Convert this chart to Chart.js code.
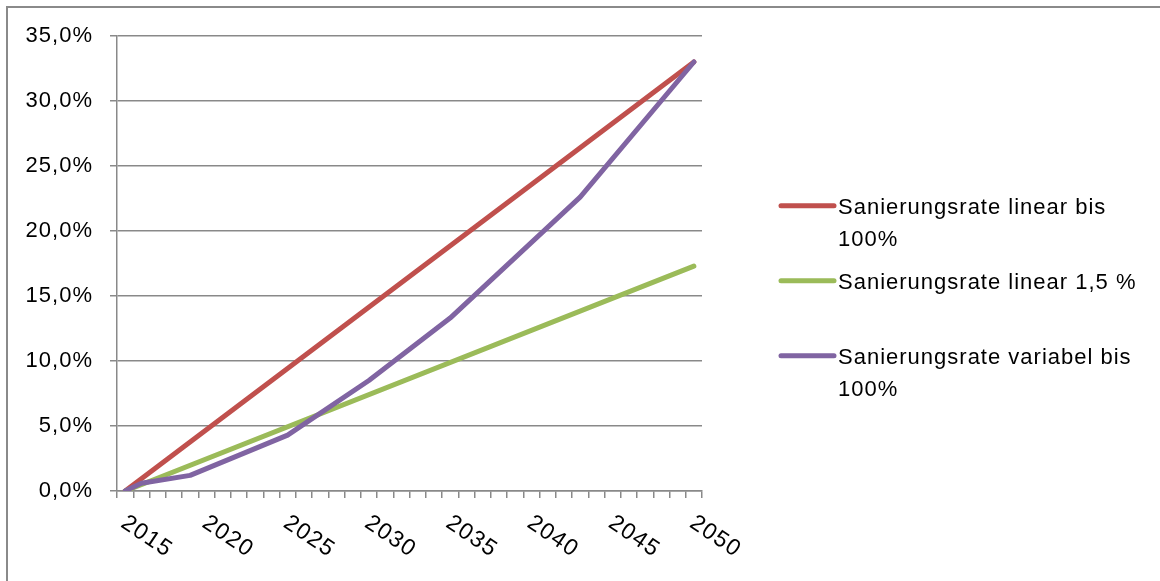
<!DOCTYPE html>
<html>
<head>
<meta charset="utf-8">
<script src="https://cdn.jsdelivr.net/npm/chart.js@4.4.0/dist/chart.umd.min.js"></script>
<style>
  html, body { margin: 0; padding: 0; background: #ffffff; }
  #wrap { position: relative; width: 1160px; height: 581px; }
</style>
</head>
<body>
<div id="wrap"><canvas id="chart" width="1160" height="581"></canvas></div>
<script>
// Years on the category axis (one category per year)
const years = [2015, 2016, 2017, 2018, 2019, 2020, 2021, 2022, 2023, 2024,
               2025, 2026, 2027, 2028, 2029, 2030, 2031, 2032, 2033, 2034,
               2035, 2036, 2037, 2038, 2039, 2040, 2041, 2042, 2043, 2044,
               2045, 2046, 2047, 2048, 2049, 2050];

// Labelled years along the x axis
const yearTickLabels = ['2015', '2020', '2025', '2030', '2035', '2040', '2045', '2050'];

// Series names
const seriesNames = [
  'Sanierungsrate linear bis 100%',
  'Sanierungsrate linear 1,5 %',
  'Sanierungsrate variabel bis 100%'
];

// Cumulative share (%) at the years where each series has values
const linear100Years = [2015, 2050];
const linear100Values = [0, 33.0];

const linear15Years = [2015, 2050];
const linear15Values = [0, 17.3];

const variabelYears = [2015, 2016, 2019, 2025, 2030, 2035, 2043, 2050];
const variabelValues = [0, 0.6, 1.2, 4.3, 8.5, 13.3, 22.6, 33.0];

// Y axis ticks
const yMin = 0, yMax = 35, yStep = 5;

const colors = ['#C0504D', '#9BBB59', '#8064A2'];
const gridColor = '#898989';
const fontFamily = '"Liberation Sans", Arial, Helvetica, sans-serif';

function toSeries(ys, vs) {
  return years.map(y => {
    const i = ys.indexOf(y);
    return i >= 0 ? vs[i] : null;
  });
}

const seriesData = [
  toSeries(linear100Years, linear100Values),
  toSeries(linear15Years, linear15Values),
  toSeries(variabelYears, variabelValues)
];

// Outer frame of the chart object
const framePlugin = {
  id: 'frame',
  beforeDraw(chart) {
    const ctx = chart.ctx;
    ctx.save();
    ctx.strokeStyle = '#8a8a8a';
    ctx.lineWidth = 2;
    ctx.strokeRect(7, 7, 1300, 800);
    ctx.restore();
    ctx.letterSpacing = '1px';
  }
};

// Rotated year labels under the x axis
const yearLabelPlugin = {
  id: 'yearLabels',
  afterDraw(chart) {
    const ctx = chart.ctx;
    const xs = chart.scales.x;
    ctx.save();
    ctx.font = '23px ' + fontFamily;
    ctx.letterSpacing = '1.3px';
    ctx.fillStyle = '#000000';
    ctx.textAlign = 'left';
    ctx.textBaseline = 'alphabetic';
    yearTickLabels.forEach(lbl => {
      const idx = years.indexOf(Number(lbl));
      const x = xs.getPixelForValue(idx);
      ctx.save();
      ctx.translate(x - 5.5, xs.top + 35);
      ctx.rotate(34 * Math.PI / 180);
      ctx.fillText(lbl, 0, 0);
      ctx.restore();
    });
    ctx.restore();
  }
};

// Legend on the right with wrapped entry text
const sideLegendPlugin = {
  id: 'sideLegend',
  afterDraw(chart) {
    const ctx = chart.ctx;
    const lineX0 = 781, lineX1 = 834, textX = 838;
    const firstY = 205.7, slot = 75, lineHeight = 31.4, maxWidth = 312;
    ctx.save();
    ctx.font = '22px ' + fontFamily;
    ctx.letterSpacing = '1px';
    ctx.fillStyle = '#000000';
    ctx.textAlign = 'left';
    ctx.textBaseline = 'alphabetic';
    chart.data.datasets.forEach((ds, i) => {
      const y = firstY + i * slot;
      ctx.strokeStyle = ds.borderColor;
      ctx.lineWidth = 5;
      ctx.lineCap = 'round';
      ctx.beginPath();
      ctx.moveTo(lineX0, y);
      ctx.lineTo(lineX1, y);
      ctx.stroke();
      const words = ds.label.split(' ');
      const lines = [];
      let cur = '';
      words.forEach(w => {
        const test = cur ? cur + ' ' + w : w;
        if (cur && ctx.measureText(test).width > maxWidth) {
          lines.push(cur);
          cur = w;
        } else {
          cur = test;
        }
      });
      if (cur) lines.push(cur);
      lines.forEach((ln, k) => ctx.fillText(ln, textX, y + 8.5 + k * lineHeight));
    });
    ctx.restore();
  }
};

new Chart(document.getElementById('chart'), {
  type: 'line',
  data: {
    labels: years.map(String),
    datasets: seriesNames.map((name, i) => ({
      label: name,
      data: seriesData[i],
      borderColor: colors[i],
      backgroundColor: colors[i],
      borderWidth: 5,
      borderCapStyle: 'round',
      borderJoinStyle: 'round',
      pointRadius: 0,
      pointHoverRadius: 0,
      tension: 0,
      spanGaps: true,
      fill: false,
      order: 3 - i
    }))
  },
  options: {
    responsive: false,
    animation: false,
    devicePixelRatio: 1,
    events: [],
    layout: { padding: { left: 0, top: 36, right: 458, bottom: 0 } },
    plugins: {
      legend: { display: false },
      tooltip: { enabled: false }
    },
    scales: {
      x: {
        type: 'category',
        offset: true,
        grid: {
          offset: true,
          drawOnChartArea: false,
          drawTicks: true,
          tickLength: 7,
          color: gridColor,
          lineWidth: 1.5
        },
        border: { color: gridColor, width: 1.5 },
        ticks: { display: false, autoSkip: false },
        afterFit(scale) { scale.height = 90; }
      },
      y: {
        min: yMin,
        max: yMax,
        ticks: {
          stepSize: yStep,
          color: '#000000',
          font: { family: fontFamily, size: 22 },
          padding: 17,
          callback: v => v.toFixed(1).replace('.', ',') + '%'
        },
        grid: {
          color: gridColor,
          lineWidth: 1.5,
          tickLength: 7,
          drawTicks: true
        },
        border: { color: gridColor, width: 1.5 },
        afterFit(scale) { scale.width = 117; }
      }
    }
  },
  plugins: [framePlugin, yearLabelPlugin, sideLegendPlugin]
});
</script>
</body>
</html>
